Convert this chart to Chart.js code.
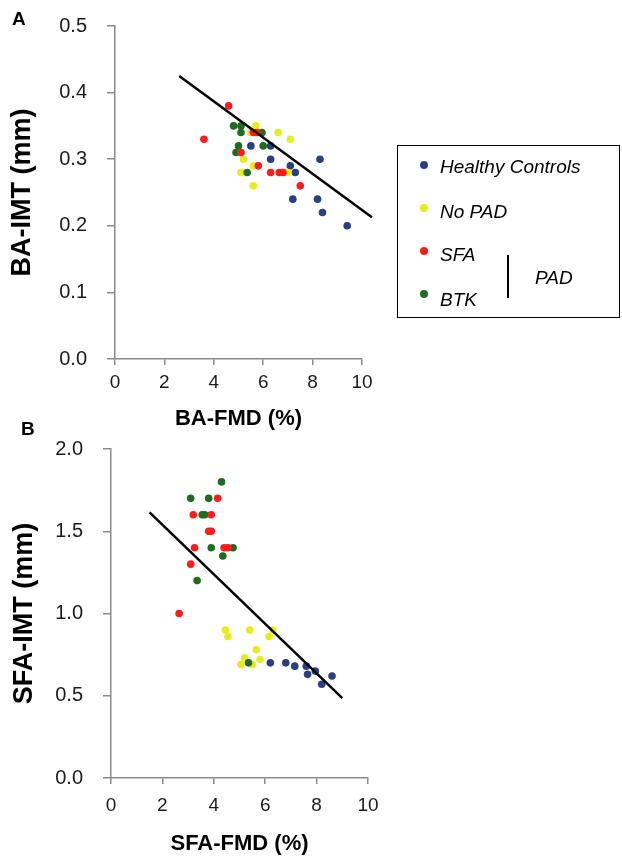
<!DOCTYPE html>
<html>
<head>
<meta charset="utf-8">
<script src="https://cdn.jsdelivr.net/npm/chart.js@4.4.1/dist/chart.umd.min.js"></script>
<style>
  body { margin: 0; background: #fff; font-family: "Liberation Sans", Arial, sans-serif; }
  #wrap { position: relative; width: 622px; height: 861px; overflow: hidden; }
  canvas { position: absolute; left: 0; }
  .tag { position: absolute; font-weight: bold; font-size: 19px; line-height: 1; color: #000; }
  #legend { position: absolute; left: 397px; top: 145px; width: 223px; height: 173px;
            border: 1.5px solid #000; box-sizing: border-box; }
  #legend .dot { position: absolute; width: 8px; height: 8px; border-radius: 50%; }
  #legend .lbl { position: absolute; font-style: italic; font-size: 19px; line-height: 20px; color: #000; white-space: nowrap; }
  #legend .bar { position: absolute; left: 109px; top: 109px; width: 2px; height: 43px; background: #000; }
</style>
</head>
<body>
<div id="wrap">
  <canvas id="chartA" width="400" height="432" style="top:0"></canvas>
  <canvas id="chartB" width="400" height="429" style="top:432px"></canvas>
  <div class="tag" style="left:12px; top:9px">A</div>
  <div class="tag" style="left:21px; top:419px">B</div>
  <div id="legend"></div>
</div>
<script>
const groupNames = ['Healthy Controls', 'No PAD', 'SFA', 'BTK'];
const groupColors = ['#293f7e', '#e5ed1e', '#fc1c1c', '#1f6b22'];

// A: BA-FMD (%) vs BA-IMT (mm)
const baHealthyX = [5.5, 6.3, 6.3, 8.3, 7.1, 7.3, 7.2, 8.2, 8.4, 9.4];
const baHealthyY = [0.32, 0.32, 0.30, 0.30, 0.29, 0.28, 0.24, 0.24, 0.22, 0.20];
const baNoPadX = [5.7, 5.5, 6.6, 7.1, 5.2, 5.1, 5.6, 7.0, 5.6];
const baNoPadY = [0.35, 0.34, 0.34, 0.33, 0.30, 0.28, 0.29, 0.28, 0.26];
const baSfaX = [4.6, 3.6, 5.6, 5.75, 5.1, 5.8, 6.3, 6.65, 6.8, 7.5];
const baSfaY = [0.38, 0.33, 0.34, 0.34, 0.31, 0.29, 0.28, 0.28, 0.28, 0.26];
const baBtkX = [4.8, 5.1, 5.1, 5.95, 5.0, 6.0, 4.9, 5.35];
const baBtkY = [0.35, 0.35, 0.34, 0.34, 0.32, 0.32, 0.31, 0.28];
const baFitX = [2.6, 10.4];
const baFitY = [0.425, 0.213];

// B: SFA-FMD (%) vs SFA-IMT (mm)
const sfaHealthyX = [6.2, 6.8, 7.15, 7.6, 7.95, 7.65, 8.6, 8.2];
const sfaHealthyY = [0.70, 0.70, 0.68, 0.68, 0.65, 0.63, 0.62, 0.57];
const sfaNoPadX = [4.45, 4.55, 5.4, 6.3, 6.15, 5.65, 5.2, 5.8, 5.05, 5.5];
const sfaNoPadY = [0.90, 0.86, 0.90, 0.90, 0.86, 0.78, 0.73, 0.72, 0.69, 0.69];
const sfaSfaX = [4.15, 3.2, 3.9, 3.8, 3.9, 3.25, 4.4, 4.55, 3.1, 2.65];
const sfaSfaY = [1.70, 1.60, 1.60, 1.50, 1.50, 1.40, 1.40, 1.40, 1.30, 1.00];
const sfaBtkX = [4.3, 3.1, 3.8, 3.55, 3.65, 3.9, 4.75, 4.35, 3.35, 5.35];
const sfaBtkY = [1.80, 1.70, 1.70, 1.60, 1.60, 1.40, 1.40, 1.35, 1.20, 0.70];
const sfaFitX = [1.5, 9.0];
const sfaFitY = [1.615, 0.486];

const pts = (xs, ys) => xs.map((x, i) => ({ x: x, y: ys[i] }));
const axisGrey = '#8a8a8a';
const fontFam = '"Liberation Sans", Arial, sans-serif';

function makePanel(id, groups, fitX, fitY, o) {
  const drawOrder = [4, 3, 1, 2]; // SFA on top, then BTK, No PAD, Healthy
  const datasets = [{
    type: 'line', data: pts(fitX, fitY), borderColor: '#000', borderWidth: 2.5,
    pointRadius: 0, showLine: true, fill: false, clip: false, order: 0
  }];
  groups.forEach((g, i) => {
    datasets.push({
      label: groupNames[i], data: pts(g[0], g[1]),
      backgroundColor: groupColors[i], borderWidth: 0,
      pointRadius: 3.8, pointHoverRadius: 3.8, order: drawOrder[i]
    });
  });
  return new Chart(document.getElementById(id), {
    type: 'scatter',
    data: { datasets },
    options: {
      responsive: false, animation: false, events: [],
      layout: { padding: { left: 0, top: o.top, right: o.right, bottom: 0 } },
      plugins: { legend: { display: false }, tooltip: { enabled: false } },
      scales: {
        x: {
          type: 'linear', min: 0, max: 10,
          ticks: { stepSize: 2, color: '#1a1a1a', font: { family: fontFam, size: 19 }, padding: o.xTickPad, maxRotation: 0 },
          grid: { drawOnChartArea: false, tickLength: 6, color: axisGrey, lineWidth: 1.5 },
          border: { color: axisGrey, width: 1.5 },
          title: { display: true, text: o.xTitle, color: '#000',
                   font: { family: fontFam, size: 22, weight: 'bold' }, padding: { top: 0, bottom: o.xTitlePad } },
          afterFit: s => { s.height = o.xh; }
        },
        y: {
          type: 'linear', min: 0, max: o.yMax,
          ticks: { stepSize: o.yStep, color: '#1a1a1a', font: { family: fontFam, size: 20 }, padding: 20,
                   callback: v => v.toFixed(1) },
          grid: { drawOnChartArea: false, tickLength: 8, color: axisGrey, lineWidth: 1.5 },
          border: { color: axisGrey, width: 1.5 },
          title: { display: true, text: o.yTitle, color: '#000',
                   font: { family: fontFam, size: 27, weight: 'bold' }, padding: { top: o.yTitlePad, bottom: 0 } },
          afterFit: s => {
            s.width = o.yw;
            // keep the label padding from pushing the plot area down
            s.paddingTop = 12;
            s.paddingBottom = 12;
          }
        }
      }
    }
  });
}

makePanel('chartA',
  [[baHealthyX, baHealthyY], [baNoPadX, baNoPadY], [baSfaX, baSfaY], [baBtkX, baBtkY]],
  baFitX, baFitY,
  { top: 26, right: 38, xh: 73, yw: 115, yMax: 0.5, yStep: 0.1, xTickPad: 6,
    xTitle: 'BA-FMD (%)', yTitle: 'BA-IMT (mm)', xTitlePad: 0, yTitlePad: 6 });

makePanel('chartB',
  [[sfaHealthyX, sfaHealthyY], [sfaNoPadX, sfaNoPadY], [sfaSfaX, sfaSfaY], [sfaBtkX, sfaBtkY]],
  sfaFitX, sfaFitY,
  { top: 17, right: 32, xh: 83, yw: 111, yMax: 2.0, yStep: 0.5, xTickPad: 10,
    xTitle: 'SFA-FMD (%)', yTitle: 'SFA-IMT (mm)', xTitlePad: 4, yTitlePad: 8 });

// legend box
const legend = document.getElementById('legend');
const dotTops = [15, 58, 101, 144];
const lblTops = [11, 56, 99, 144];
groupNames.forEach((name, i) => {
  const d = document.createElement('div');
  d.className = 'dot';
  d.style.left = '22px';
  d.style.top = dotTops[i] + 'px';
  d.style.background = groupColors[i];
  legend.appendChild(d);
  const t = document.createElement('div');
  t.className = 'lbl';
  t.style.left = '42px';
  t.style.top = lblTops[i] + 'px';
  t.textContent = name;
  legend.appendChild(t);
});
const bar = document.createElement('div');
bar.className = 'bar';
legend.appendChild(bar);
const pad = document.createElement('div');
pad.className = 'lbl';
pad.style.left = '137px';
pad.style.top = '122px';
pad.textContent = 'PAD';
legend.appendChild(pad);
</script>
</body>
</html>
